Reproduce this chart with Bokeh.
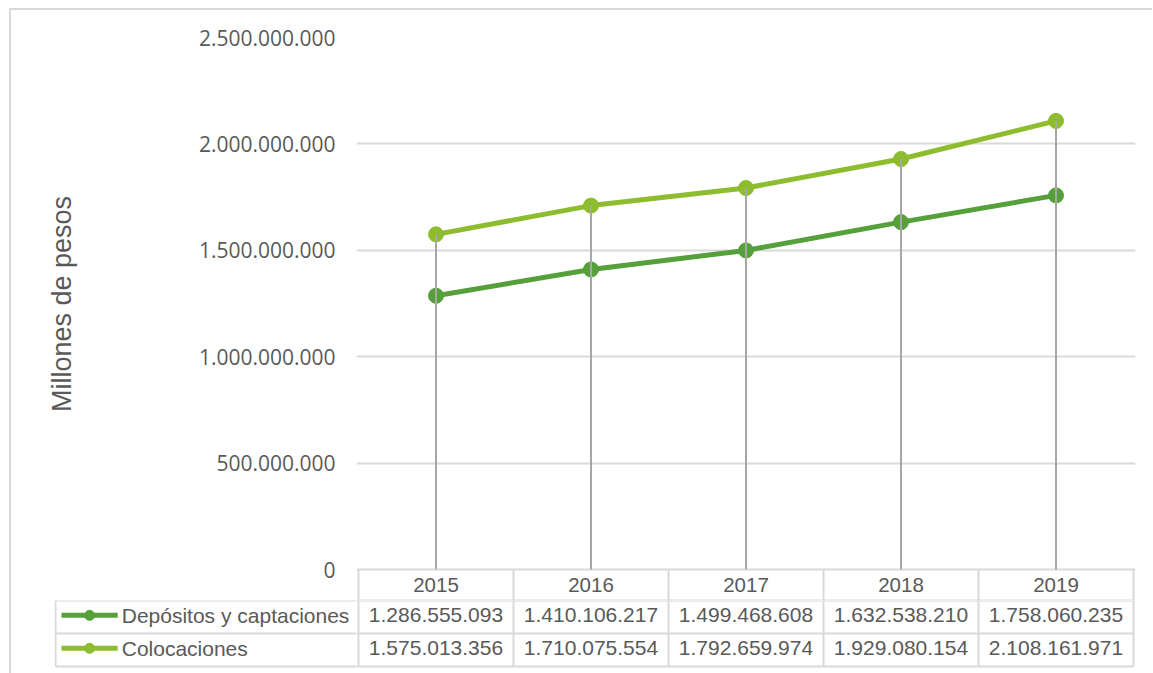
import numpy as np
from bokeh.plotting import figure
from bokeh.models import Range1d, FixedTicker
from bokeh.layouts import column, row
from bokeh.embed import file_html
from bokeh.resources import INLINE
from bokeh.core.properties import value

# ---- data ----
years = ["2015", "2016", "2017", "2018", "2019"]
depositos = [1286555093, 1410106217, 1499468608, 1632538210, 1758060235]
colocaciones = [1575013356, 1710075554, 1792659974, 1929080154, 2108161971]
series_names = ["Depósitos y captaciones", "Colocaciones"]
series_colors = ["#55A03A", "#8DBC2E"]
y_ticks = [0, 500000000, 1000000000, 1500000000, 2000000000, 2500000000]
y_title = "Millones de pesos"

series_values = [depositos, colocaciones]


def fmt(v):
    return f"{v:,}".replace(",", ".")


TEXT = "#595959"
GRID = "#D9D9D9"
DROP = "#A6A6A6"
PX = 155.0        # pixels per category column
PLOT_PX = 532.0   # height of the value area (0 .. max tick)
HEAD_PX = 31.0    # height of the year header row
ROW_PX = 33.0     # height of each series row of the table
LABEL_W = 302.0   # width of the series-name column

xs = list(range(len(years)))
n = len(years)
font = value("Liberation Sans")
x_lo, x_hi = -0.5 - 2.0 / PX, n - 0.5 + 2.0 / PX

# ---- line chart (value area + year header row) ----
y_max = y_ticks[-1]
p = figure(width=1141, height=590,
           x_range=Range1d(x_lo, x_hi),
           y_range=Range1d(-HEAD_PX * y_max / PLOT_PX, y_max),
           output_backend="svg", toolbar_location=None,
           min_border_left=345, min_border_right=17,
           min_border_top=27, min_border_bottom=0)
p.outline_line_color = None
p.xaxis.visible = False
p.xgrid.visible = False
p.ygrid.grid_line_color = GRID
p.ygrid.grid_line_width = 2
p.yaxis.ticker = FixedTicker(ticks=y_ticks)
p.yaxis.major_label_overrides = {t: fmt(t) for t in y_ticks}
p.yaxis.axis_line_color = None
p.yaxis.major_tick_line_color = None
p.yaxis.minor_tick_line_color = None
p.yaxis.major_tick_out = 0
p.yaxis.major_label_standoff = 21
p.yaxis.major_label_text_font = "Open Sans"
p.yaxis.major_label_text_font_size = "21px"
p.yaxis.major_label_text_color = TEXT
# the title is centred on the frame, which also holds the header row;
# leading no-break spaces lift it back to the middle of the value area
p.yaxis.axis_label = "\u00a0" * 4 + y_title
p.yaxis.axis_label_text_font = "Liberation Sans"
p.yaxis.axis_label_text_font_size = "27px"
p.yaxis.axis_label_text_font_style = "normal"
p.yaxis.axis_label_text_color = TEXT
p.yaxis.axis_label_standoff = 119

for vals, col in zip(series_values, series_colors):
    p.line(xs, vals, line_width=5, color=col)
    p.scatter(xs, vals, size=15, color=col)

# drop lines from the highest point down to zero
tops = np.maximum(np.array(depositos), np.array(colocaciones))
p.segment(x0=xs, y0=[0] * n, x1=xs, y1=tops, line_color=DROP, line_width=2)

# header row, in its own row units (0 = top edge, 1 = bottom edge)
p.extra_y_ranges = {"head": Range1d(start=1.0, end=-PLOT_PX / HEAD_PX)}
hv = [i - 0.5 for i in range(n + 1)]
p.segment(x0=hv, y0=[0] * (n + 1), x1=hv, y1=[1] * (n + 1),
          line_color=GRID, line_width=2, y_range_name="head")
p.segment(x0=[-0.5], y0=[1], x1=[n - 0.5], y1=[1],
          line_color=GRID, line_width=2, y_range_name="head")
p.text(x=xs, y=[0.5] * n, text=years, text_font=font, text_font_size="20.5px",
       text_color=TEXT, text_align="center", text_baseline="middle",
       y_range_name="head")

# ---- series rows of the table ----
t_yr = Range1d(start=2 + 2.0 / ROW_PX, end=0)

lf = figure(width=345, height=73,
            x_range=Range1d(-0.5 - (LABEL_W + 1.0) / PX, -0.5 - 2.0 / PX),
            y_range=t_yr, output_backend="svg", toolbar_location=None,
            min_border_left=43, min_border_right=0,
            min_border_top=0, min_border_bottom=5)
tf = figure(width=796, height=73, x_range=Range1d(x_lo, x_hi),
            y_range=t_yr, output_backend="svg", toolbar_location=None,
            min_border_left=0, min_border_right=17,
            min_border_top=0, min_border_bottom=5)
for f in (lf, tf):
    f.outline_line_color = None
    f.axis.visible = False
    f.grid.visible = False

label_left = -0.5 - LABEL_W / PX
for f in (lf, tf):
    f.segment(x0=[label_left] * 3, y0=[0, 1, 2], x1=[n - 0.5] * 3, y1=[0, 1, 2],
              line_color=GRID, line_width=2)
    vx = hv + [label_left]
    f.segment(x0=vx, y0=[0] * len(vx), x1=vx, y1=[2] * len(vx),
              line_color=GRID, line_width=2)

for r, (name, vals, col) in enumerate(zip(series_names, series_values, series_colors)):
    yc = r + 0.45
    tf.text(x=xs, y=[yc] * n, text=[fmt(v) for v in vals], text_font=font,
            text_font_size="21px", text_color=TEXT,
            text_align="center", text_baseline="middle")
    lf.line([label_left + 6 / PX, label_left + 62 / PX], [yc, yc], line_width=5, color=col)
    lf.scatter([label_left + 34 / PX], [yc], size=10, color=col)
    lf.text(x=[label_left + 66 / PX], y=[yc], text=[name], text_font=font,
            text_font_size="21px", text_color=TEXT,
            text_align="left", text_baseline="middle")

layout = column(p, row(lf, tf, spacing=0), spacing=0, margin=(8, 0, 0, 9),
                styles={"border-top": f"2px solid {GRID}", "border-left": f"2px solid {GRID}"})

open("out.html", "w").write(file_html(layout, INLINE))
